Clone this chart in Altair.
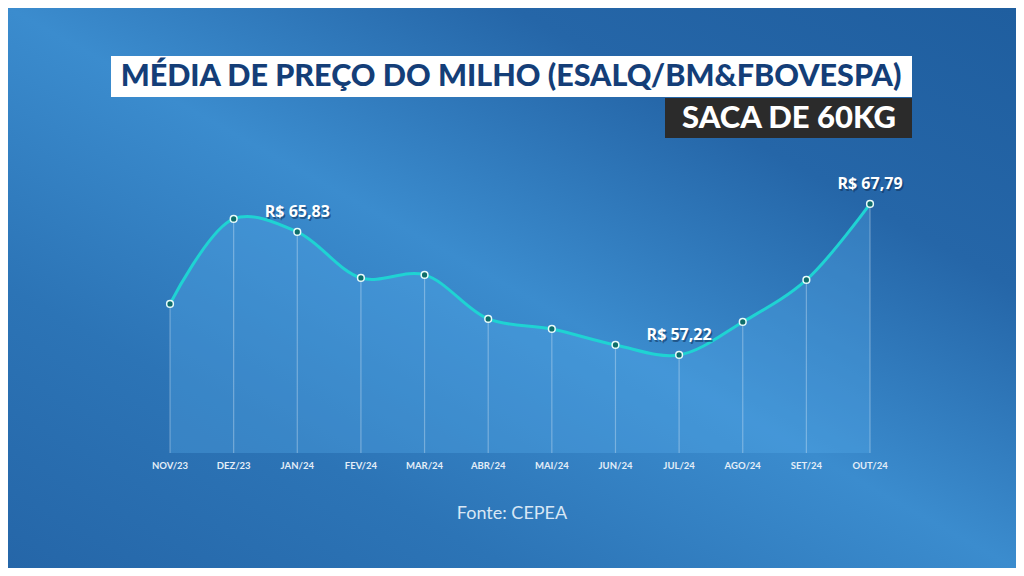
import altair as alt
import pandas as pd

months = ["NOV/23", "DEZ/23", "JAN/24", "FEV/24", "MAR/24", "ABR/24",
          "MAI/24", "JUN/24", "JUL/24", "AGO/24", "SET/24", "OUT/24"]
prices = [60.79, 66.74, 65.83, 62.61, 62.82, 59.74, 59.04, 57.92, 57.22, 59.53, 62.47, 67.79]
highlight_idx = [2, 8, 11]
highlight_txt = ["R$ 65,83", "R$ 57,22", "R$ 67,79"]

title_txt = "MÉDIA DE PREÇO DO MILHO (ESALQ/BM&FBOVESPA)"
subtitle_txt = "SACA DE 60KG"
source_txt = "Fonte: CEPEA"
BASE = 50.36

W, H = 1008, 560

df = pd.DataFrame({"i": list(range(len(months))), "month": months, "price": prices})
df["base"] = BASE
hl = pd.DataFrame({
    "i": highlight_idx,
    "price": [prices[k] for k in highlight_idx],
    "txt": highlight_txt,
})

xs = alt.Scale(domain=[-2.546, 13.294], nice=False, zero=False)
ys = alt.Scale(domain=[42.31, 81.50], nice=False, zero=False)
X = alt.X("i:Q", scale=xs, axis=None)
Y = alt.Y("price:Q", scale=ys, axis=None)

one = pd.DataFrame({"k": [0]})

bg = alt.Chart(one).mark_rect(
    color=alt.Gradient(
        gradient="linear", x1=1, y1=0, x2=0, y2=1,
        stops=[
            alt.GradientStop(offset=0, color="#1f5e9f"),
            alt.GradientStop(offset=0.25, color="#2566a8"),
            alt.GradientStop(offset=0.5, color="#3b8cce"),
            alt.GradientStop(offset=0.75, color="#2c74b6"),
            alt.GradientStop(offset=1, color="#2566a8"),
        ],
    )
).encode(x=alt.value(0), x2=alt.value(W), y=alt.value(0), y2=alt.value(H))

area = alt.Chart(df).mark_area(
    interpolate="catmull-rom", color="#5aaef0", opacity=0.3
).encode(x=X, y=Y, y2=alt.Y2("base:Q"))

drops = alt.Chart(df).mark_rule(color="#ffffff", opacity=0.3, strokeWidth=1.2).encode(
    x=X, y=Y, y2=alt.Y2("base:Q")
)

line = alt.Chart(df).mark_line(
    interpolate="catmull-rom", color="#1fd3d3", strokeWidth=3
).encode(x=X, y=Y)

pts = alt.Chart(df).mark_point(
    filled=True, fill="#0f6d6a", stroke="#e8fbfb", strokeWidth=1.5, size=45, opacity=1
).encode(x=X, y=Y)

xlab = alt.Chart(df).mark_text(
    font="Lato", fontSize=9.5, fontWeight="bold", color="#e4eef8", baseline="middle"
).encode(x=X, y=alt.value(458), text="month:N")

labels_shadow = alt.Chart(hl).mark_text(
    font="Open Sans", fontSize=16, fontWeight="bold", color="#0a2a50", opacity=0.5,
    baseline="middle", dy=-18, dx=1.5
).encode(x=X, y=Y, text="txt:N")

labels = alt.Chart(hl).mark_text(
    font="Open Sans", fontSize=16, fontWeight="bold", color="#ffffff",
    baseline="middle", dy=-19.5
).encode(x=X, y=Y, text="txt:N")

title_box = alt.Chart(one).mark_rect(color="#ffffff").encode(
    x=alt.value(103), x2=alt.value(904), y=alt.value(48), y2=alt.value(89)
)
title = alt.Chart(one).mark_text(
    text=title_txt, font="Lato", fontWeight=900, fontSize=30.5, color="#143e78",
    align="center", baseline="middle"
).encode(x=alt.value(503), y=alt.value(69))

sub_box = alt.Chart(one).mark_rect(color="#2b2b2b").encode(
    x=alt.value(657), x2=alt.value(904), y=alt.value(90), y2=alt.value(130)
)
sub = alt.Chart(one).mark_text(
    text=subtitle_txt, font="Lato", fontWeight=900, fontSize=31, color="#ffffff",
    align="center", baseline="middle"
).encode(x=alt.value(781), y=alt.value(111))

src = alt.Chart(one).mark_text(
    text=source_txt, font="Lato", fontSize=18, color="#d8e7f5",
    align="center", baseline="middle"
).encode(x=alt.value(504), y=alt.value(506))

chart = alt.layer(
    bg, area, drops, line, pts, xlab, labels_shadow, labels,
    title_box, title, sub_box, sub, src
).properties(
    width=W, height=H, autosize=alt.AutoSizeParams(type="none"), padding=0
).configure_view(stroke=None).configure(background="#2566a8")

chart.save("out.html", embed_options={"renderer": "svg", "actions": False})
